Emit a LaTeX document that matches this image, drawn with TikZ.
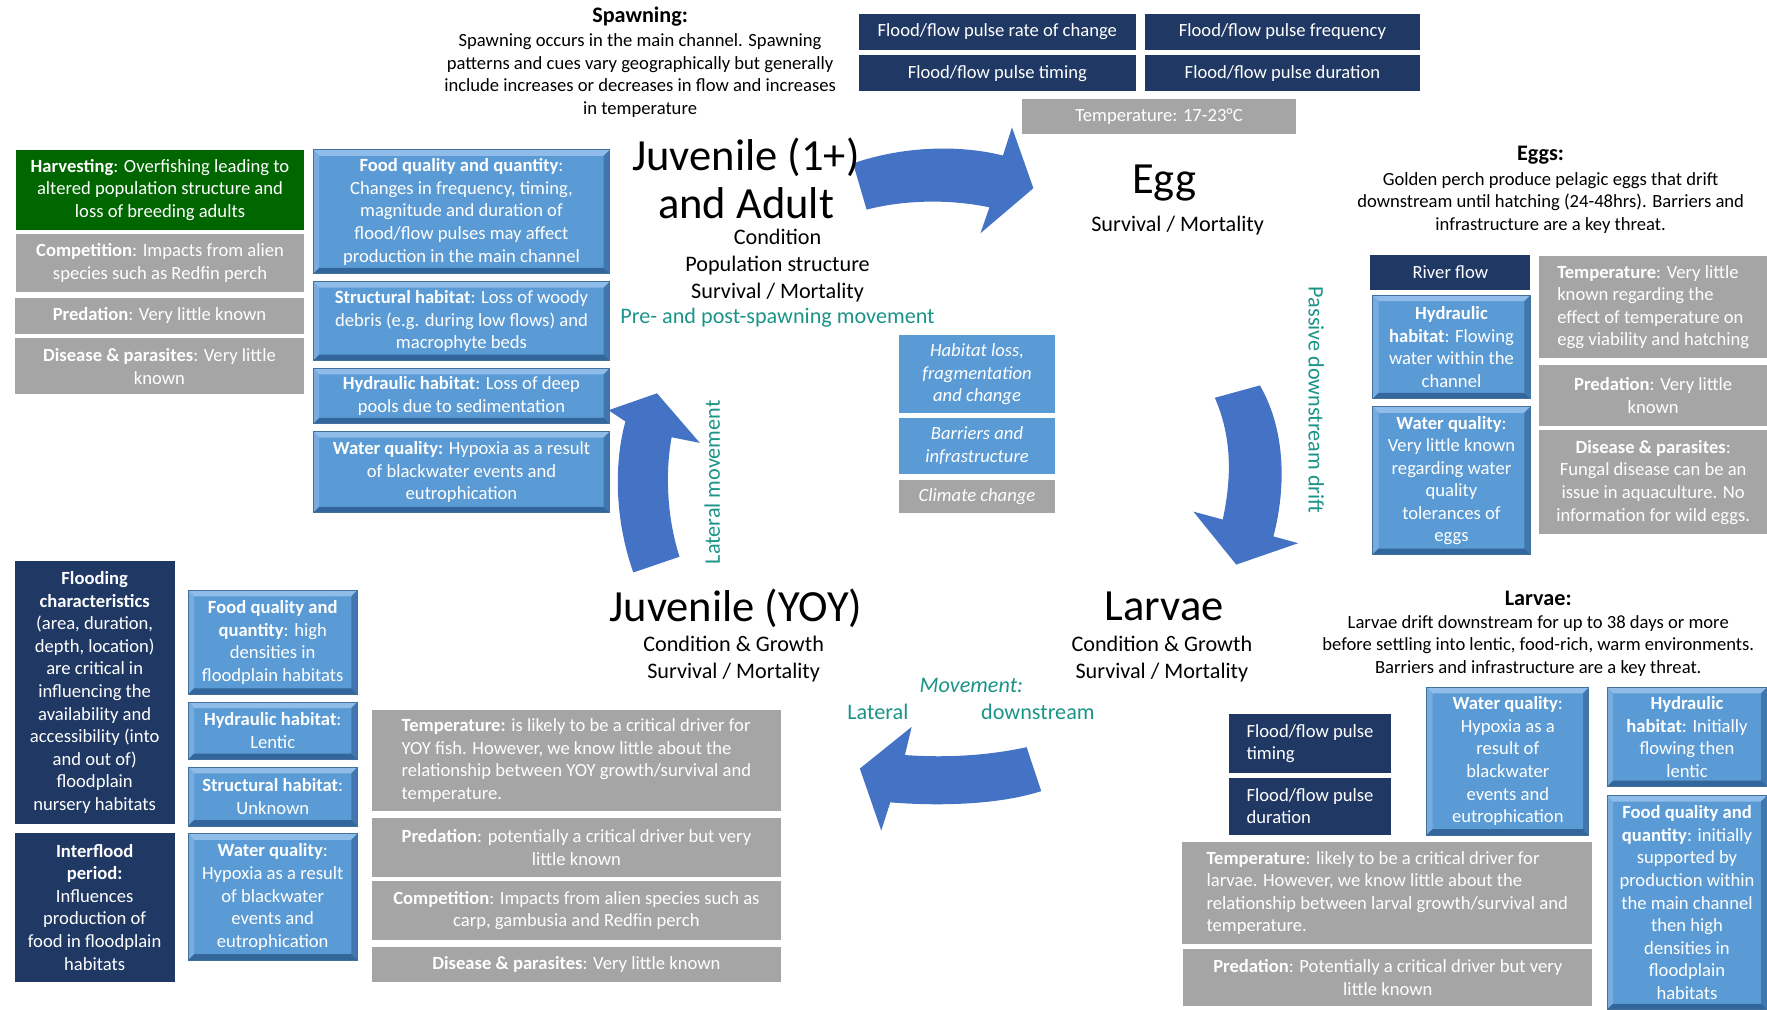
\documentclass[tikz,border=0pt]{standalone}
\usepackage{fontspec}
\setmainfont{Carlito}
\usepackage{tikz}

\definecolor{navy}{HTML}{203864}
\definecolor{bluefill}{HTML}{5B9BD5}
\definecolor{blueedge}{HTML}{41719C}
\definecolor{bevtop}{HTML}{8FBCE8}
\definecolor{bevleft}{HTML}{78ACE0}
\definecolor{bevright}{HTML}{3F77AE}
\definecolor{bevbot}{HTML}{33669A}
\definecolor{greyfill}{HTML}{A5A5A5}
\definecolor{harvest}{HTML}{006600}
\definecolor{arrowblue}{HTML}{4472C4}
\definecolor{moveteal}{HTML}{1B9488}

\begin{document}
\begin{tikzpicture}[
        x=0.02cm, y=-0.02cm,
        wh/.style 2 args={minimum width=#1*0.02cm, minimum height=#2*0.02cm},
        base/.style={inner sep=1pt, align=center, text=white,
          font=\fontsize{9.4}{11.4}\selectfont},
        navybox/.style={base, fill=navy},
        greybox/.style={base, fill=greyfill},
        greenbox/.style={base, fill=harvest},
        flatbox/.style={base, fill=bluefill, draw=white, line width=0.6pt,
          font=\fontsize{9.4}{11.4}\selectfont\itshape},
        bluebox/.style={base, fill=bluefill, draw=blueedge, line width=0.5pt,
          path picture={
            \fill[bevtop] (path picture bounding box.north west) -- (path picture bounding box.north east)
              -- ([shift={(-3pt,-3pt)}]path picture bounding box.north east)
              -- ([shift={(3pt,-3pt)}]path picture bounding box.north west) -- cycle;
            \fill[bevleft] (path picture bounding box.north west) -- (path picture bounding box.south west)
              -- ([shift={(3pt,3pt)}]path picture bounding box.south west)
              -- ([shift={(3pt,-3pt)}]path picture bounding box.north west) -- cycle;
            \fill[bevright] (path picture bounding box.north east) -- (path picture bounding box.south east)
              -- ([shift={(-3pt,3pt)}]path picture bounding box.south east)
              -- ([shift={(-3pt,-3pt)}]path picture bounding box.north east) -- cycle;
            \fill[bevbot] (path picture bounding box.south west) -- (path picture bounding box.south east)
              -- ([shift={(-3pt,3pt)}]path picture bounding box.south east)
              -- ([shift={(3pt,3pt)}]path picture bounding box.south west) -- cycle;
          }},
        stage/.style={align=center, inner sep=0pt, font=\fontsize{22.5}{24.4}\selectfont},
        attr/.style={align=center, inner sep=0pt, font=\fontsize{11.2}{13.6}\selectfont},
        move/.style={attr, text=moveteal},
        story/.style={align=center, inner sep=0pt, font=\fontsize{9.4}{11.4}\selectfont},
        bigarrow/.style={fill=arrowblue}
        ]
        \useasboundingbox (0,0) rectangle (1568,896);

        % cycle arrows
        \fill[bigarrow] (757,145) .. controls (800,130) and (850,128) .. (890,138) -- (898,113) -- (917,167)
            -- (870,207) -- (878,184) .. controls (840,176) and (800,178) .. (769,186) -- cycle;
        \fill[bigarrow] (1078,353) -- (1118,342) .. controls (1140,380) and (1142,430) .. (1130,476)
            -- (1152,482) -- (1097,501) -- (1059,454) -- (1085,461) .. controls (1094,420) and (1092,385) .. cycle;
        \fill[bigarrow] (911,663) .. controls (870,672) and (830,672) .. (803,670) -- (809,645) -- (763,682)
            -- (782,737) -- (790,712) .. controls (840,716) and (890,713) .. (924,702) -- cycle;
        \fill[bigarrow] (562,508) .. controls (545,460) and (545,410) .. (555,374) -- (540,364) -- (583,349)
            -- (621,393) -- (596,388) .. controls (590,420) and (592,460) .. (603,494) -- cycle;

        % spawning
        \node[story, font=\fontsize{11.2}{13}\selectfont\bfseries] (spawnhead) at (568,15) {Spawning:};
        \node[story] (spawntext) at (568,67) {Spawning occurs in the main channel. Spawning\\patterns and cues vary geographically but generally\\include increases or decreases in flow and increases\\in temperature};
        \node[navybox, wh={246}{32}] (rate) at (885,28) {Flood/flow pulse rate of change};
        \node[navybox, wh={244}{32}] (freq) at (1138,28) {Flood/flow pulse frequency};
        \node[navybox, wh={246}{32}] (timing) at (885,65) {Flood/flow pulse timing};
        \node[navybox, wh={244}{32}] (dur) at (1138,65) {Flood/flow pulse duration};
        \node[greybox, wh={243}{31}] (spawntemp) at (1028.5,103.5) {Temperature: 17-23°C};

        % juvenile (1+) and adult
        \node[greenbox, wh={256}{71}] (harv) at (142,168.5) {\textbf{Harvesting}: Overfishing leading to\\altered population structure and\\loss of breeding adults};
        \node[greybox, wh={256}{51}] (adcomp) at (142,233.5) {\textbf{Competition}: Impacts from alien\\species such as Redfin perch};
        \node[greybox, wh={257}{32}] (adpred) at (141.5,280) {\textbf{Predation}: Very little known};
        \node[greybox, wh={257}{50}] (addis) at (141.5,325) {\textbf{Disease \& parasites}: Very little\\known};
        \node[bluebox, wh={263}{110}] (adfood) at (409.5,188) {\textbf{Food quality and quantity}:\\Changes in frequency, timing,\\magnitude and duration of\\flood/flow pulses may affect\\production in the main channel};
        \node[bluebox, wh={263}{70}] (adstruct) at (409.5,285) {\textbf{Structural habitat}: Loss of woody\\debris (e.g. during low flows) and\\macrophyte beds};
        \node[bluebox, wh={263}{49}] (adhydr) at (409.5,351.5) {\textbf{Hydraulic habitat}: Loss of deep\\pools due to sedimentation};
        \node[bluebox, wh={263}{72}] (adwq) at (409.5,419) {\textbf{Water quality:} Hypoxia as a result\\of blackwater events and\\eutrophication};
        \node[stage] (adult) at (662,158) {Juvenile (1+)\\and Adult};
        \node[attr] (adultattr) at (690,236) {Condition\\Population structure\\Survival / Mortality};
        \node[move] (spawnmove) at (690,282) {Pre- and post-spawning movement};

        % centre
        \node[flatbox, wh={140}{70}] (habloss) at (867,332) {Habitat loss,\\fragmentation\\and change};
        \node[flatbox, wh={140}{51}] (barrier) at (867,395.5) {Barriers and\\infrastructure};
        \node[greybox, draw=white, line width=0.6pt, font=\fontsize{9.4}{11.4}\selectfont\itshape, wh={140}{31}] (climate) at (867,440.5) {Climate change};

        % egg
        \node[stage] (egg) at (1033,162) {Egg};
        \node[attr] (eggattr) at (1045,200) {Survival / Mortality};
        \node[story, font=\fontsize{11.2}{13}\selectfont\bfseries] (egghead) at (1367,138) {Eggs:};
        \node[story] (eggtext) at (1376,180) {Golden perch produce pelagic eggs that drift\\downstream until hatching (24-48hrs). Barriers and\\infrastructure are a key threat.};
        \node[navybox, wh={142}{31}] (river) at (1287,241.5) {River flow};
        \node[bluebox, wh={140}{92}] (egghydr) at (1288,308) {\textbf{Hydraulic}\\\textbf{habitat}: Flowing\\water within the\\channel};
        \node[bluebox, wh={140}{131}] (eggwq) at (1288,426.5) {\textbf{Water quality}:\\Very little known\\regarding water\\quality\\tolerances of\\eggs};
        \node[greybox, align=left, wh={202}{91}] (eggtemp) at (1467,272.5) {\textbf{Temperature}: Very little\\known regarding the\\effect of temperature on\\egg viability and hatching};
        \node[greybox, wh={202}{54}] (eggpred) at (1467,351) {\textbf{Predation}: Very little\\known};
        \node[greybox, wh={202}{92}] (eggdis) at (1467,428) {\textbf{Disease \& parasites}:\\Fungal disease can be an\\issue in aquaculture. No\\information for wild eggs.};
        \node[move, rotate=-90] (drift) at (1168,355) {Passive downstream drift};

        % larvae
        \node[stage] (larvae) at (1033,538) {Larvae};
        \node[attr] (larvattr) at (1031,585) {Condition \& Growth\\Survival / Mortality};
        \node[story, font=\fontsize{11.2}{13}\selectfont\bfseries] (larvhead) at (1365,531) {Larvae:};
        \node[story] (larvtext) at (1365,573) {Larvae drift downstream for up to 38 days or more\\before settling into lentic, food-rich, warm environments.\\Barriers and infrastructure are a key threat.};
        \node[navybox, align=left, wh={143}{52}] (ltiming) at (1162.5,660) {Flood/flow pulse\\timing};
        \node[navybox, align=left, wh={143}{51}] (ldur) at (1162.5,715.5) {Flood/flow pulse\\duration};
        \node[bluebox, wh={144}{131}] (lwq) at (1338,675.5) {\textbf{Water quality}:\\Hypoxia as a\\result of\\blackwater\\events and\\eutrophication};
        \node[bluebox, wh={142}{88}] (lhydr) at (1497,654) {\textbf{Hydraulic}\\\textbf{habitat}: Initially\\flowing then\\lentic};
        \node[bluebox, wh={142}{190}] (lfood) at (1497,801) {\textbf{Food quality and}\\\textbf{quantity}: initially\\supported by\\production within\\the main channel\\then high\\densities in\\floodplain\\habitats};
        \node[greybox, align=left, wh={364}{91}] (ltemp) at (1231,792.5) {\textbf{Temperature}: likely to be a critical driver for\\larvae. However,  we know little about the\\relationship between larval growth/survival and\\temperature.};
        \node[greybox, wh={363}{51}] (lpred) at (1231.5,867.5) {\textbf{Predation}: Potentially a critical driver but very\\little known};
        \node[move, font=\fontsize{11.2}{13.6}\selectfont\itshape] (movehead) at (862,608) {Movement:};
        \node[move] (movelat) at (779,632) {Lateral};
        \node[move] (movedown) at (921,632) {downstream};

        % juvenile (YOY)
        \node[stage] (yoy) at (653,540) {Juvenile (YOY)};
        \node[attr] (yoyattr) at (651,585) {Condition \& Growth\\Survival / Mortality};
        \node[navybox, wh={142}{233}] (flooding) at (84,614.5) {\textbf{Flooding}\\\textbf{characteristics}\\(area, duration,\\depth, location)\\are critical in\\influencing the\\availability and\\accessibility (into\\and out of)\\floodplain\\nursery habitats};
        \node[navybox, wh={142}{132}] (interflood) at (84,805) {\textbf{Interflood}\\\textbf{period:}\\Influences\\production of\\food in floodplain\\habitats};
        \node[bluebox, wh={150}{92}] (yfood) at (242,570) {\textbf{Food quality and}\\\textbf{quantity}: high\\densities in\\floodplain habitats};
        \node[bluebox, wh={150}{51}] (yhydr) at (242,648.5) {\textbf{Hydraulic habitat}:\\Lentic};
        \node[bluebox, wh={150}{52}] (ystruct) at (242,707) {\textbf{Structural habitat}:\\Unknown};
        \node[bluebox, wh={150}{112}] (ywq) at (242,796) {\textbf{Water quality}:\\Hypoxia as a result\\of blackwater\\events and\\eutrophication};
        \node[greybox, align=left, wh={363}{90}] (ytemp) at (511.5,675) {\textbf{Temperature:} is likely to be a critical driver for\\YOY fish. However, we know little about the\\relationship between YOY growth/survival and\\temperature.};
        \node[greybox, wh={363}{52}] (ypred) at (511.5,752) {\textbf{Predation}:  potentially a critical driver but very\\little known};
        \node[greybox, wh={363}{52}] (ycomp) at (511.5,808) {\textbf{Competition}: Impacts from alien species such as\\carp, gambusia and Redfin perch};
        \node[greybox, wh={363}{31}] (ydis) at (511.5,855.5) {\textbf{Disease \& parasites}: Very little known};
        \node[move, rotate=90] (latmove) at (632,428) {Lateral movement};

    \end{tikzpicture}
\end{document}
